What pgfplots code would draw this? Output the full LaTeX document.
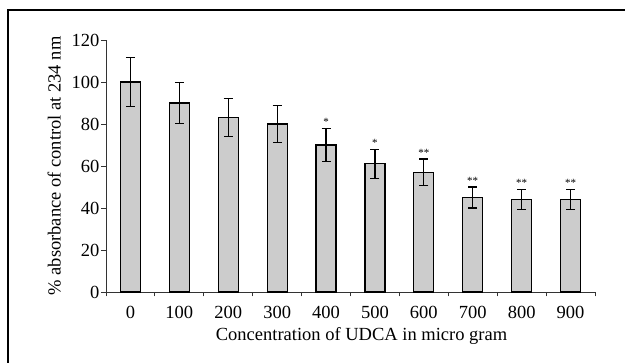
\documentclass[border=0pt]{standalone}
\usepackage{pgfplots}
\pgfplotsset{compat=1.18}
\usepackage{fontspec}
\setmainfont{Liberation Serif}
\begin{document}
\begin{tikzpicture}
\useasboundingbox (-106pt,-71pt) rectangle (519pt,292pt);
\draw[line width=2pt] (-98pt,-80pt) -- (-98pt,282pt) -- (530pt,282pt);
\begin{axis}[
  scale only axis, width=489pt, height=252pt,
  at={(0pt,0pt)}, anchor=south west,
  xmin=-0.5, xmax=9.5, ymin=0, ymax=120,
  axis x line=bottom, axis y line=left,
  axis line style={-, line width=0.8pt, black!80},
  tick style={line width=0.8pt, black!80},
  tick align=outside, major tick length=4.5pt,
  xtick={-0.5,0.5,...,9.5},
  x tick label as interval,
  xticklabels={0,100,200,300,400,500,600,700,800,900},
  ytick={0,20,...,120},
  /pgf/number format/assume math mode=true,
  ticklabel style={font=\fontsize{18.5}{20}\selectfont},
  xticklabel style={inner sep=1pt, yshift=-9pt},
  yticklabel style={inner sep=2pt},
  xlabel={Concentration of UDCA in micro gram},
  ylabel={\% absorbance of control at 234 nm},
  label style={font=\fontsize{18.5}{20}\selectfont},
  xlabel style={at={(axis description cs:0.5225,-0.1740)}, anchor=center},
  ylabel style={at={(axis description cs:-0.106,0.5)}, anchor=center},
  clip=false,
]
\addplot[ybar, bar width=0.41, fill=black!20, draw=black, line width=1.2pt,
  error bars/.cd, y dir=both, y explicit,
  error bar style={line width=1.2pt, black},
  error mark options={rotate=90, mark size=4.5pt, line width=1.2pt, black}]
  table[x=x, y=y, y error=e] {
x y e
0 100 11.5
1 90 9.7
2 83 9
3 80 8.7
4 70 8
5 61 7
6 57 6.3
7 45 5
8 44 4.8
9 44 4.8
};
\addplot[only marks, mark=none, nodes near coords, point meta=explicit symbolic,
  nodes near coords style={font=\fontsize{11}{11}\selectfont, anchor=south, inner sep=2.5pt}]
  table[x=x, y=y, meta=s] {
x y s
4 78 *
5 68 *
6 63.3 **
7 50 **
8 48.8 **
9 48.8 **
};
\end{axis}
\end{tikzpicture}
\end{document}
